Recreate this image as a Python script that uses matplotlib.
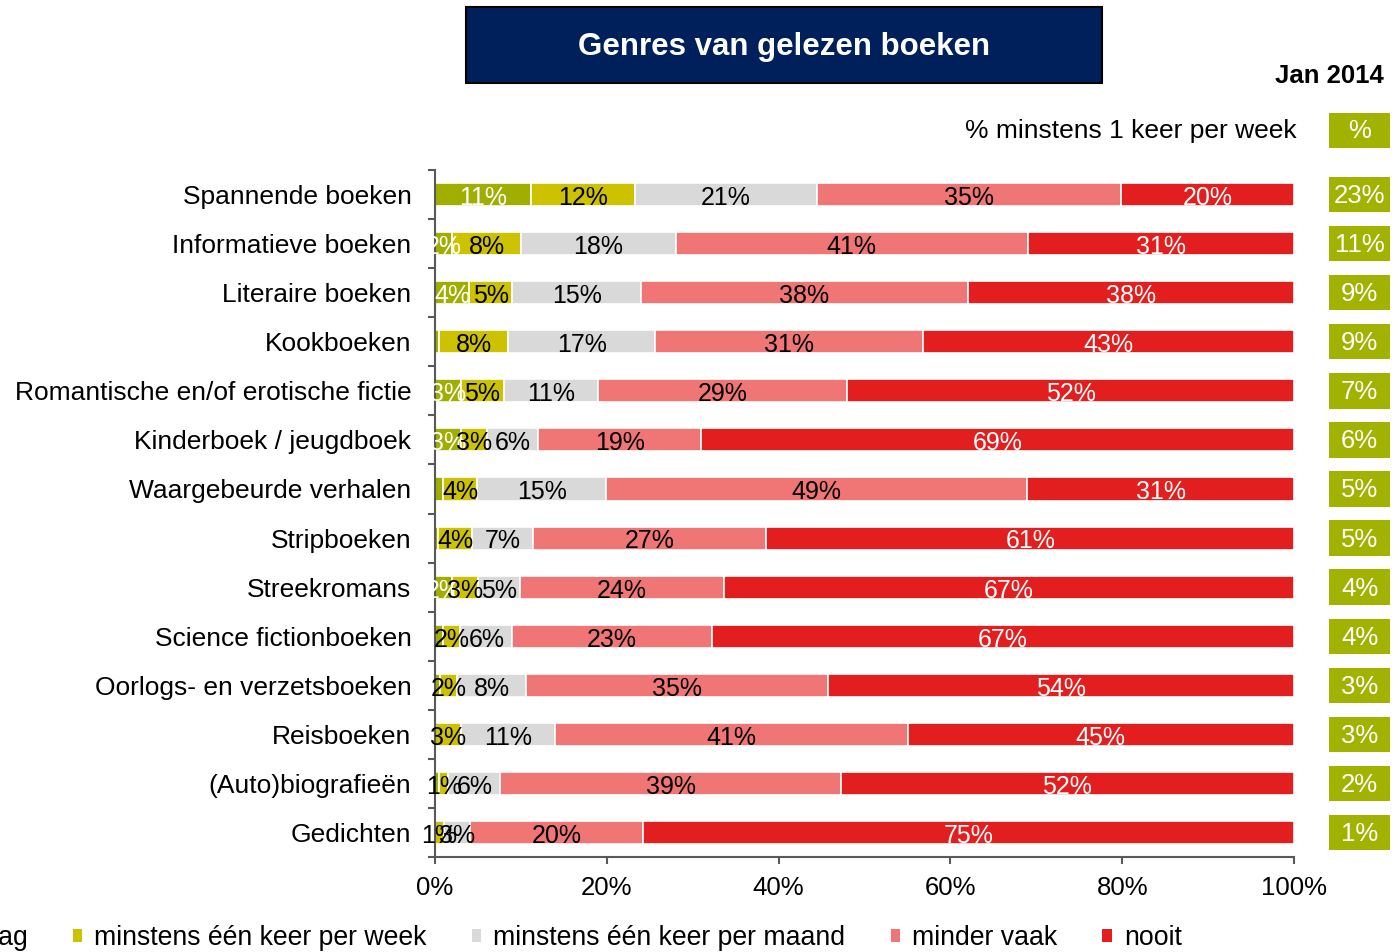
import numpy as np
import matplotlib
matplotlib.use("Agg")
import matplotlib.pyplot as plt
from matplotlib.patches import Patch, Rectangle
from matplotlib.transforms import blended_transform_factory

plt.rcParams["font.family"] = ["Liberation Sans", "DejaVu Sans"]

# -----------------------------
# Data (percentages per genre)
# -----------------------------
genres = [
    "Spannende boeken",
    "Informatieve boeken",
    "Literaire boeken",
    "Kookboeken",
    "Romantische en/of erotische fictie",
    "Kinderboek / jeugdboek",
    "Waargebeurde verhalen",
    "Stripboeken",
    "Streekromans",
    "Science fictionboeken",
    "Oorlogs- en verzetsboeken",
    "Reisboeken",
    "(Auto)biografieën",
    "Gedichten",
]

per_dag = [11, 2, 4, 0.5, 3, 3, 0.9, 0.3, 2, 0.9, 0.6, 0, 0.5, 0]
per_week = [12, 8, 5, 8, 5, 3, 4, 4, 3, 2, 2, 3, 1, 1]
per_maand = [21, 18, 15, 17, 11, 6, 15, 7, 5, 6, 8, 11, 6, 3]
minder_vaak = [35, 41, 38, 31, 29, 19, 49, 27, 24, 23, 35, 41, 39, 20]
nooit = [20, 31, 38, 43, 52, 69, 31, 61, 67, 67, 54, 45, 52, 75]

weekly_total = [23, 11, 9, 9, 7, 6, 5, 5, 4, 4, 3, 3, 2, 1]

series_names = [
    "minstens één keer per dag",
    "minstens één keer per week",
    "minstens één keer per maand",
    "minder vaak",
    "nooit",
]
series_colors = ["#9fae00", "#cdc200", "#d9d9d9", "#f07575", "#e31e1e"]
label_colors = ["white", "black", "black", "black", "white"]

OLIVE = "#a2b200"
NAVY = "#00205b"


# -----------------------------
# Plot
# -----------------------------
def main():
    fig = plt.figure(figsize=(13.94, 9.52), dpi=100)
    ax = fig.add_axes([0.3121, 0.0998, 0.6162, 0.7216])

    values = np.array([per_dag, per_week, per_maand, minder_vaak, nooit], dtype=float)
    # 100% stacked: scale every row to a total of 100
    scaled = values / values.sum(axis=0) * 100

    y = np.arange(len(genres))
    left = np.zeros(len(genres))
    for i in range(len(series_names)):
        ax.barh(y, scaled[i], left=left, height=0.47, color=series_colors[i],
                edgecolor="white", linewidth=1.2, label=series_names[i])
        for j in range(len(genres)):
            raw = values[i, j]
            if raw >= 1:
                ax.text(left[j] + scaled[i, j] / 2, y[j] + 0.07, f"{raw:.0f}%",
                        ha="center", va="center", fontsize=18,
                        color=label_colors[i])
        left += scaled[i]

    ax.set_xlim(0, 100)
    ax.set_ylim(len(genres) - 0.5, -0.5)

    ax.set_xticks(np.arange(0, 101, 20))
    ax.set_xticklabels([f"{v}%" for v in range(0, 101, 20)], fontsize=18.5)
    ax.set_yticks(y)
    ax.set_yticklabels(genres, fontsize=19)
    ax.set_yticks(np.arange(-0.5, len(genres)), minor=True)

    ax.tick_params(axis="y", which="major", length=0, pad=17)
    ax.tick_params(axis="y", which="minor", length=5, width=1.5, color="#595959")
    ax.tick_params(axis="x", length=5, width=1.5, color="#595959", pad=9)

    for side in ["top", "right"]:
        ax.spines[side].set_visible(False)
    for side in ["left", "bottom"]:
        ax.spines[side].set_color("#595959")
        ax.spines[side].set_linewidth(1.5)

    # right column with weekly totals
    trans = blended_transform_factory(ax.transAxes, ax.transData)
    box_x, box_w, box_h = 1.0407, 0.071, 0.72
    for j, val in enumerate(weekly_total):
        ax.add_patch(Rectangle((box_x, y[j] - box_h / 2), box_w, box_h,
                               transform=trans, clip_on=False,
                               facecolor=OLIVE, edgecolor="none"))
        ax.text(box_x + box_w / 2, y[j] + 0.03, f"{val}%", transform=trans,
                ha="center", va="center", fontsize=18.5, color="white")

    head_y = -1.3
    ax.add_patch(Rectangle((box_x, head_y - box_h / 2), box_w, box_h,
                           transform=trans, clip_on=False,
                           facecolor=OLIVE, edgecolor="none"))
    ax.text(box_x + box_w / 2, head_y, "%", transform=trans,
            ha="center", va="center", fontsize=18.5, color="white")
    ax.text(1.0035, head_y, "% minstens 1 keer per week", transform=trans,
            ha="right", va="center", fontsize=19)

    fig.text(0.993, 0.920, "Jan 2014", ha="right", va="center",
             fontsize=18.5, fontweight="bold")

    # title box
    fig.patches.append(Rectangle((466 / 1394, 1 - 83 / 952), 636 / 1394, 76 / 952,
                                 transform=fig.transFigure, facecolor=NAVY,
                                 edgecolor="black", linewidth=1.5))
    fig.text(784 / 1394, 1 - 47 / 952, "Genres van gelezen boeken",
             ha="center", va="center", fontsize=22.5, fontweight="bold",
             color="white")

    # legend, first entry runs off the left edge like the original
    handles = [Patch(facecolor=c, edgecolor="none") for c in series_colors]
    fig.legend(handles, series_names, loc="center left",
               bbox_to_anchor=(-0.2385, 0.0147), ncol=5, frameon=False,
               fontsize=19.2, handlelength=0.35, handleheight=0.35,
               handletextpad=0.45, columnspacing=1.7)

    fig.savefig("out.png", dpi=100)
    plt.close(fig)


if __name__ == "__main__":
    main()
